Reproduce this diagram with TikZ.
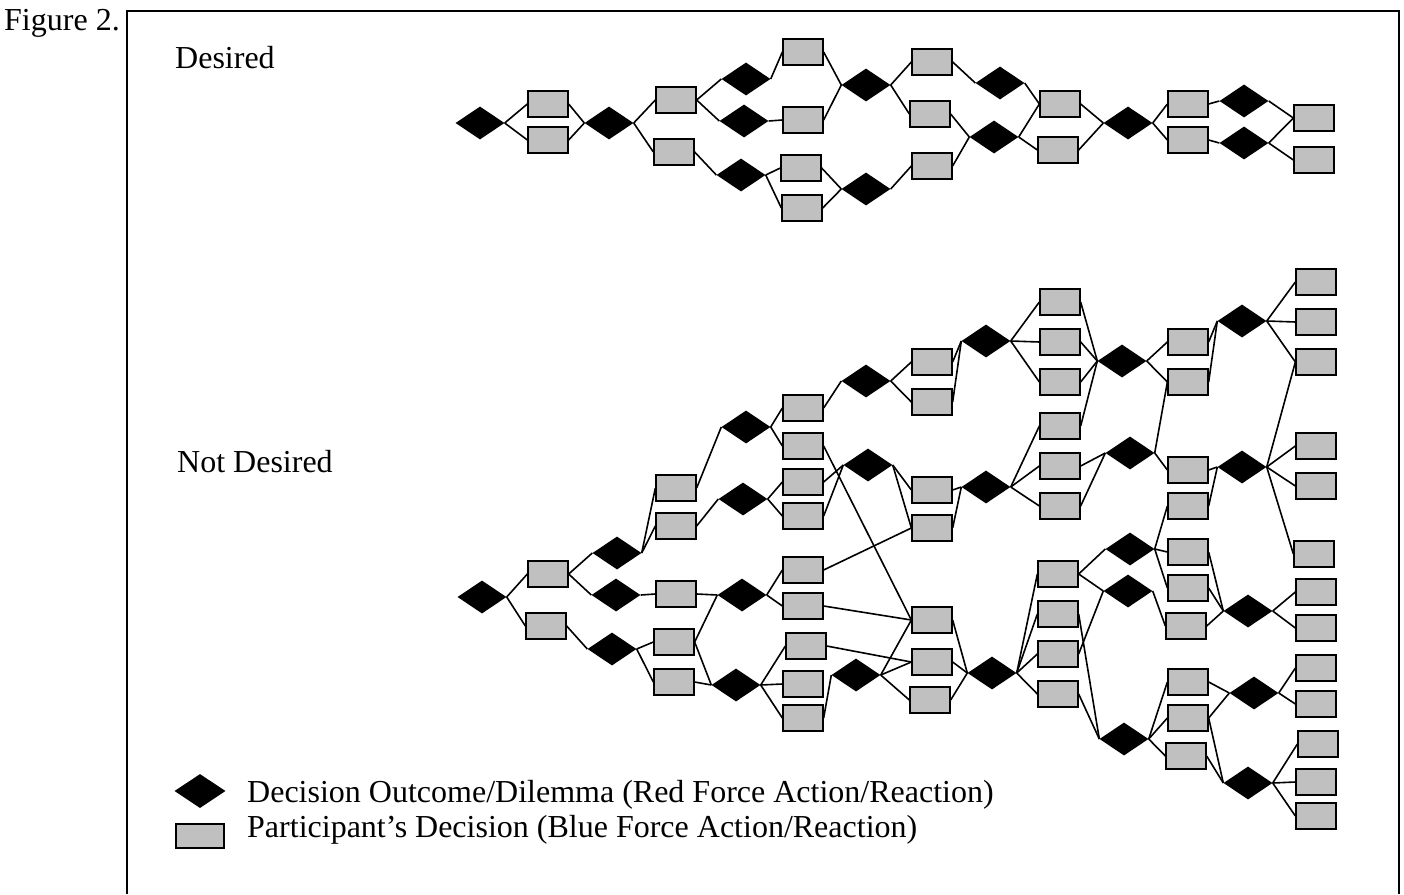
\documentclass[tikz,border=0pt]{standalone}
\usepackage{fontspec}
\setmainfont{Liberation Serif}
\usetikzlibrary{shapes.geometric}
\definecolor{boxgray}{HTML}{C0C0C0}
\begin{document}
\begin{tikzpicture}[x=1pt,y=-1pt,
  dia/.style={diamond,fill=black,inner sep=0pt,minimum width=49pt,minimum height=33pt},
  box/.style={rectangle,draw=black,fill=boxgray,line width=1.8pt,inner sep=0pt,minimum width=39.5pt,minimum height=25.5pt},
  conn/.style={line width=1.6pt},
  lbl/.style={font=\fontsize{32}{38}\selectfont,inner sep=0pt,anchor=base west},
  frame/.style={line width=2pt}]
\useasboundingbox (0,0) rectangle (1404,894);
% frame
\coordinate (fbl) at (127,894);
\coordinate (ftl) at (127,11);
\coordinate (ftr) at (1399,11);
\coordinate (fbr) at (1399,894);
\draw[frame] (fbl) -- (ftl) -- (ftr) -- (fbr);
% labels
\node[lbl] (fig) at (4,30) {Figure 2.};
\node[lbl] (des) at (175,68) {Desired};
\node[lbl] (ndes) at (177,472) {Not Desired};
% ---------------- Desired ----------------
\node[dia] (D1) at (480,123) {};
\node[box] (R1a) at (548,104) {};
\node[box] (R1b) at (548,140) {};
\node[dia] (D2) at (609,123) {};
\node[box] (R2a) at (676,100) {};
\node[box] (R2b) at (674,152) {};
\node[dia] (D3a) at (746,79) {};
\node[dia] (D3b) at (744,121) {};
\node[dia] (D4) at (741,175) {};
\node[box] (R3a) at (803,52) {};
\node[box] (R3b) at (803,120) {};
\node[box] (R3c) at (801,168) {};
\node[box] (R3d) at (802,208) {};
\node[dia] (D5) at (866,85) {};
\node[dia] (D5b) at (866,189) {};
\node[box] (R4a) at (932,62) {};
\node[box] (R4b) at (930,114) {};
\node[box] (R4c) at (932,166) {};
\node[dia] (D6a) at (1000,83) {};
\node[dia] (D6b) at (994,137) {};
\node[box] (R5a) at (1060,104) {};
\node[box] (R5b) at (1058,150) {};
\node[dia] (D7) at (1128,123) {};
\node[box] (R6a) at (1188,104) {};
\node[box] (R6b) at (1188,140) {};
\node[dia] (D8a) at (1244,101) {};
\node[dia] (D8b) at (1244,143) {};
\node[box] (R7a) at (1314,118) {};
\node[box] (R7b) at (1314,160) {};
\foreach \a/\b in {D1/R1a,D1/R1b,R1a/D2,R1b/D2,D2/R2a,D2/R2b,R2a/D3a,R2a/D3b,R2b/D4,
  D3a/R3a,D3b/R3b,D4/R3c,D4/R3d,R3a/D5,R3b/D5,R3c/D5b,R3d/D5b,D5/R4a,D5/R4b,D5b/R4c,
  R4a/D6a,R4b/D6b,R4c/D6b,D6a/R5a,D6b/R5a,D6b/R5b,R5a/D7,R5b/D7,D7/R6a,D7/R6b,
  R6a/D8a,R6b/D8b,D8a/R7a,D8b/R7a,D8b/R7b}
  \draw[conn] (\a.east) -- (\b.west);
% ---------------- Not Desired ----------------
\node[dia] (E1) at (482,597) {};
\node[box] (S1a) at (548,574) {};
\node[box] (S1b) at (546,626) {};
\node[dia] (E2a) at (617,553) {};
\node[dia] (E2b) at (616,595) {};
\node[dia] (E2c) at (612,649) {};
\node[box] (S2a) at (676,488) {};
\node[box] (S2b) at (676,526) {};
\node[box] (S2c) at (676,594) {};
\node[box] (S2d) at (674,642) {};
\node[box] (S2e) at (674,682) {};
\node[dia] (E3a) at (746,427) {};
\node[dia] (E3b) at (743,499) {};
\node[dia] (E3c) at (742,595) {};
\node[dia] (E3d) at (736,685) {};
\node[box] (S3a) at (803,408) {};
\node[box] (S3b) at (803,446) {};
\node[box] (S3c) at (803,482) {};
\node[box] (S3d) at (803,516) {};
\node[box] (S3e) at (803,570) {};
\node[box] (S3f) at (803,606) {};
\node[box] (S3g) at (806,646) {};
\node[box] (S3h) at (803,684) {};
\node[box] (S3i) at (803,718) {};
\node[dia] (E5a) at (866,381) {};
\node[dia] (E4up) at (868,465) {};
\node[dia] (E4) at (856,675) {};
\node[box] (S4a) at (932,362) {};
\node[box] (S4b) at (932,402) {};
\node[box] (S4c) at (932,490) {};
\node[box] (S4d) at (932,528) {};
\node[box] (S6a) at (932,620) {};
\node[box] (S6b) at (932,662) {};
\node[box] (S6c) at (930,700) {};
\node[dia] (E6a) at (986,341) {};
\node[dia] (E6b) at (986,487) {};
\node[dia] (E8) at (992,673) {};
\node[box] (S5a) at (1060,302) {};
\node[box] (S5b) at (1060,342) {};
\node[box] (S5c) at (1060,382) {};
\node[box] (S5d) at (1060,426) {};
\node[box] (S5e) at (1060,466) {};
\node[box] (S5f) at (1060,506) {};
\node[box] (S7a) at (1058,574) {};
\node[box] (S7b) at (1058,614) {};
\node[box] (S7c) at (1058,654) {};
\node[box] (S7d) at (1058,694) {};
\node[dia] (E9a) at (1122,361) {};
\node[dia] (E9b) at (1130,453) {};
\node[dia] (E9c) at (1130,549) {};
\node[dia] (E9d) at (1128,591) {};
\node[dia] (E12) at (1124,739) {};
\node[box] (S8a) at (1188,342) {};
\node[box] (S8b) at (1188,382) {};
\node[box] (S8c) at (1188,470) {};
\node[box] (S8d) at (1188,506) {};
\node[box] (S8e) at (1188,552) {};
\node[box] (S8f) at (1188,588) {};
\node[box] (S8g) at (1186,626) {};
\node[box] (S8h) at (1188,682) {};
\node[box] (S8i) at (1188,718) {};
\node[box] (S8j) at (1186,756) {};
\node[dia] (E10a) at (1242,321) {};
\node[dia] (E10b) at (1242,467) {};
\node[dia] (E11a) at (1248,611) {};
\node[dia] (E11b) at (1254,693) {};
\node[dia] (E11c) at (1248,783) {};
\node[box] (S9a) at (1316,282) {};
\node[box] (S9b) at (1316,322) {};
\node[box] (S9c) at (1316,362) {};
\node[box] (S9d) at (1316,446) {};
\node[box] (S9e) at (1316,486) {};
\node[box] (S9f) at (1314,554) {};
\node[box] (S9g) at (1316,592) {};
\node[box] (S9h) at (1316,628) {};
\node[box] (S9i) at (1316,668) {};
\node[box] (S9j) at (1316,704) {};
\node[box] (S9k) at (1318,744) {};
\node[box] (S9l) at (1316,782) {};
\node[box] (S9m) at (1316,816) {};
\foreach \a/\b in {E1/S1a,E1/S1b,S1a/E2a,S1a/E2b,S1b/E2c,
  E2a/S2a,E2a/S2b,E2b/S2c,E2c/S2d,E2c/S2e,
  S2a/E3a,S2b/E3b,S2c/E3c,S2d/E3c,S2d/E3d,S2e/E3d,
  E3a/S3a,E3a/S3b,E3b/S3c,E3b/S3d,E3c/S3e,E3c/S3f,E3d/S3g,E3d/S3h,E3d/S3i,
  S3a/E5a,S3b/S6a,S3c/E4up,S3d/E4up,S3e/S4d,S3f/S6a,S3g/S6b,S3i/E4,
  E5a/S4a,E5a/S4b,E4up/S4c,E4up/S4d,E4/S6a,E4/S6b,E4/S6c,
  S4a/E6a,S4b/E6a,S4c/E6b,S4d/E6b,S6a/E8,S6b/E8,S6c/E8,
  E6a/S5a,E6a/S5b,E6a/S5c,E6b/S5d,E6b/S5e,E6b/S5f,E8/S7a,E8/S7b,E8/S7c,E8/S7d,
  S5a/E9a,S5b/E9a,S5c/E9a,S5d/E9a,S5e/E9b,S5f/E9b,S7a/E9c,S7a/E9d,S7b/E12,S7c/E9d,S7d/E12,
  E9a/S8a,E9a/S8b,E9b/S8b,E9b/S8c,E9c/S8d,E9c/S8e,E9c/S8f,E9d/S8g,E12/S8h,E12/S8i,E12/S8j,
  S8a/E10a,S8b/E10a,S8c/E10b,S8d/E10b,S8e/E11a,S8f/E11a,S8g/E11a,S8h/E11b,S8i/E11b,S8i/E11c,S8j/E11c,
  E10a/S9a,E10a/S9b,E10a/S9c,E10b/S9c,E10b/S9d,E10b/S9e,E10b/S9f,E11a/S9g,E11a/S9h,
  E11b/S9i,E11b/S9j,E11c/S9k,E11c/S9l,E11c/S9m}
  \draw[conn] (\a.east) -- (\b.west);
% ---------------- Legend ----------------
\node[dia,minimum width=51pt,minimum height=34pt] (legd) at (200,791) {};
\node[box,minimum width=48pt,minimum height=23.5pt] (legb) at (200,836) {};
\node[lbl] (legdt) at (247,802) {Decision Outcome/Dilemma (Red Force Action/Reaction)};
\node[lbl] (legbt) at (247,837) {Participant’s Decision (Blue Force Action/Reaction)};
\end{tikzpicture}
\end{document}
